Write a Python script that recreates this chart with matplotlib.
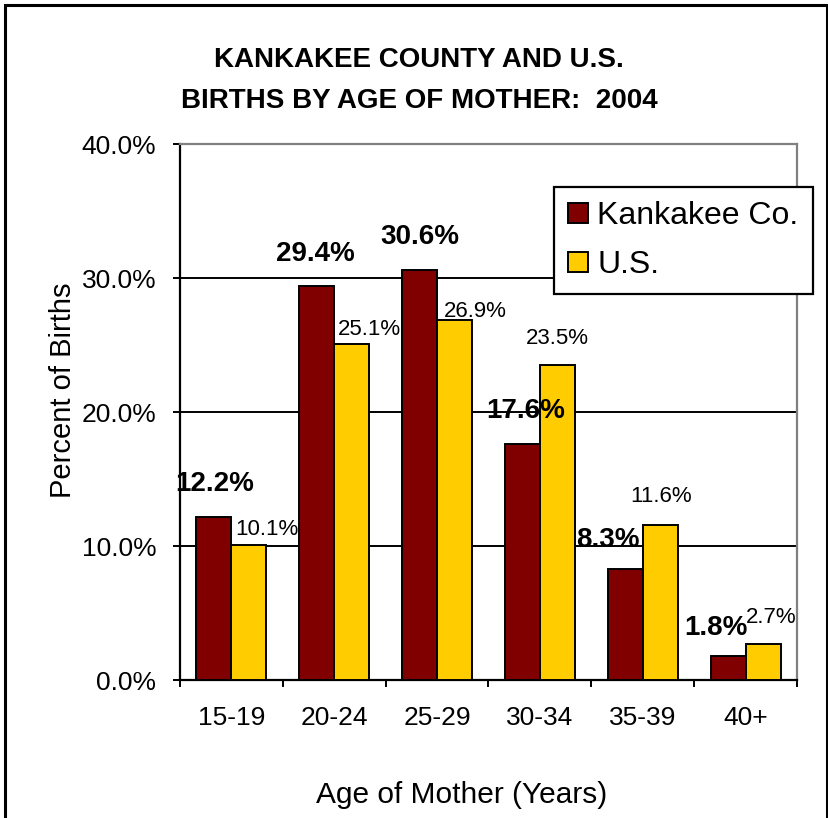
import matplotlib
matplotlib.use("Agg")
import matplotlib.pyplot as plt
import numpy as np
from matplotlib.patches import Rectangle
from matplotlib.ticker import FuncFormatter, FixedLocator

plt.rcParams['font.family'] = ['Liberation Sans', 'DejaVu Sans']

ages = ["15-19", "20-24", "25-29", "30-34", "35-39", "40+"]
kankakee = [12.2, 29.4, 30.6, 17.6, 8.3, 1.8]
us = [10.1, 25.1, 26.9, 23.5, 11.6, 2.7]

# label nudges in pixels (dx, dy) from the bar top, as laid out in the original
k_off = [(1, 33), (-1, 32), (0, 33), (3, 33), (-17, 29), (-12, 28)]
u_off = [(18, 15), (18, 14), (21, 8), (0, 27), (1, 28), (8, 26)]

maroon = "#800000"
gold = "#FFCC00"

fig = plt.figure(figsize=(8.29, 8.18), dpi=100)
ax = fig.add_axes([180 / 829, 1 - 680 / 818, 617 / 829, 536 / 818])

x = np.arange(len(ages)) + 0.5
w = 0.34
b1 = ax.bar(x - w / 2, kankakee, w, color=maroon, edgecolor="black", linewidth=1.4,
            label="Kankakee Co.", zorder=3)
b2 = ax.bar(x + w / 2, us, w, color=gold, edgecolor="black", linewidth=1.4,
            label="U.S.", zorder=3)

for xi, v, (dx, dy) in zip(x - w / 2, kankakee, k_off):
    ax.annotate(f"{v:.1f}%", (xi, v), xytext=(dx, dy), textcoords="offset pixels",
                ha="center", va="center", fontsize=20, fontweight="bold", zorder=5)
for xi, v, (dx, dy) in zip(x + w / 2, us, u_off):
    ax.annotate(f"{v:.1f}%", (xi, v), xytext=(dx, dy), textcoords="offset pixels",
                ha="center", va="center", fontsize=16, zorder=5)

ax.set_xlim(0, len(ages))
ax.set_ylim(0, 40)
ax.set_yticks([0, 10, 20, 30, 40])
ax.yaxis.set_major_formatter(FuncFormatter(lambda v, p: f"{v:.1f}%"))
ax.yaxis.grid(True, color="black", linewidth=1.4)
ax.set_axisbelow(True)

# ticks on category boundaries, labels centred
ax.xaxis.set_major_locator(FixedLocator(np.arange(len(ages) + 1)))
ax.xaxis.set_major_formatter(FuncFormatter(lambda v, p: ""))
ax.set_xticks(x, minor=True)
ax.set_xticklabels(ages, minor=True)
ax.tick_params(axis="x", which="major", length=5, width=1.4, direction="out")
ax.tick_params(axis="x", which="minor", length=0, pad=19, labelsize=19)
ax.tick_params(axis="y", length=5, width=1.4, direction="out", pad=12, labelsize=19)

for s in ["top", "right"]:
    ax.spines[s].set_color("#808080")
    ax.spines[s].set_linewidth(1.6)
for s in ["left", "bottom"]:
    ax.spines[s].set_color("black")
    ax.spines[s].set_linewidth(1.6)

fig.text(419 / 829, 1 - 60 / 818, "KANKAKEE COUNTY AND U.S.", ha="center", va="center",
         fontsize=20, fontweight="bold")
fig.text(419 / 829, 1 - 101 / 818, "BIRTHS BY AGE OF MOTHER:  2004", ha="center", va="center",
         fontsize=20, fontweight="bold")
fig.text(462 / 829, 1 - 795 / 818, "Age of Mother (Years)", ha="center", va="center",
         fontsize=21.5)
fig.text(63 / 829, 1 - 390 / 818, "Percent of Births", ha="center", va="center",
         rotation=90, fontsize=21)

leg = fig.legend(handles=[b1, b2], loc="upper left", bbox_to_anchor=(554 / 829, 1 - 187 / 818),
                 fontsize=23, frameon=True, fancybox=False, framealpha=1, edgecolor="black",
                 handlelength=0.6, handleheight=0.6, handletextpad=0.3,
                 labelspacing=0.58, borderpad=0.45, borderaxespad=0)
leg.get_frame().set_linewidth(1.6)

fig.patches.append(Rectangle((5 / 829, -0.02), 822 / 829, 1.02 - 5 / 818,
                             transform=fig.transFigure, fill=False, edgecolor="black",
                             linewidth=2.2))

fig.savefig("out.png", dpi=100)
